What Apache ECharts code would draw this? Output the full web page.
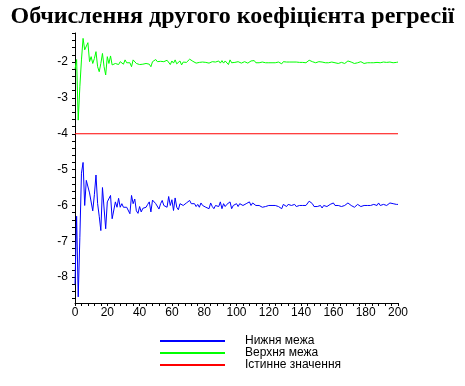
<!DOCTYPE html>
<html>
<head>
<meta charset="utf-8">
<script src="https://cdn.jsdelivr.net/npm/echarts@6/dist/echarts.min.js"></script>
<style>html,body{margin:0;padding:0;background:#fff}#c{width:465px;height:386px}</style>
</head>
<body>
<div id="c"></div>
<script>
var titleText = 'Обчислення другого коефіцієнта регресії';
var seriesNames = ['Нижня межа', 'Верхня межа', 'Істинне значення'];
var xTickLabels = [0, 20, 40, 60, 80, 100, 120, 140, 160, 180, 200];
var yTickLabels = [-8, -7, -6, -5, -4, -3, -2];
var trueValue = -4;

var lowerBound = [
-8.2, -6.3, -8.55, -6.9, -5.1, -4.8, -6.0, -5.3, -5.35, -5.65,
-5.6, -6.15, -5.7, -5.15, -5.95, -6.3, -6.7, -5.5, -5.5, -6.65,
-5.9, -5.85, -5.72, -6.37, -6.35, -5.9, -6.05, -5.8, -6.05, -5.95,
-6.05, -6.07, -6.05, -6.1, -6.23, -5.72, -5.95, -5.82, -6.15, -6.22,
-6.03, -6.18, -6.08, -6.12, -6.05, -5.97, -5.9, -6.18, -5.85, -5.9,
-5.95, -6.0, -6.1, -5.95, -5.86, -6.0, -5.95, -6.05, -5.75, -6.0,
-5.84, -6.14, -5.79, -6.05, -6.12, -5.95, -6.0, -6.0, -5.95, -5.93,
-5.9, -5.86, -5.95, -5.97, -5.95, -6.03, -5.97, -6.05, -5.93, -6.0,
-5.97, -6.05, -6.03, -6.09, -5.93, -6.03, -6.09, -6.0, -5.95, -6.03,
-5.9, -6.09, -5.95, -6.03, -5.97, -5.93, -5.9, -6.09, -6.0, -6.05,
-5.95, -6.03, -5.95, -6.0, -6.0, -6.05, -5.95, -6.0, -5.9, -6.0,
-5.93, -5.95, -6.0, -6.0, -6.0, -6.03, -6.05, -6.03, -6.03, -6.03,
-6.0, -5.95, -6.0, -6.05, -6.0, -5.98, -6.03, -6.07, -6.09, -5.97,
-5.93, -6.03, -5.97, -6.0, -6.0, -6.0, -5.97, -6.03, -6.0, -6.0,
-6.0, -6.0, -6.0, -6.0, -5.95, -5.88, -5.84, -5.95, -6.03, -6.0,
-6.03, -6.05, -6.0, -6.07, -6.0, -6.0, -6.03, -6.07, -5.97, -5.95,
-5.93, -6.0, -6.05, -6.0, -6.0, -6.03, -6.0, -6.0, -5.97, -5.93,
-5.9, -6.0, -6.03, -6.05, -6.0, -5.97, -5.97, -6.03, -6.05, -6.0,
-6.0, -6.0, -6.0, -6.0, -6.0, -5.97, -5.97, -6.0, -5.93, -6.0,
-5.97, -5.97, -5.95, -6.0, -5.97, -5.93, -5.97, -5.95, -6.0, -5.97,
-5.97
];

var upperBound = [
-2.2, -1.93, -3.62, -2.69, -1.94, -1.34, -1.66, -1.71, -1.46, -1.99,
-1.85, -2.04, -1.9, -1.71, -2.13, -2.27, -2.04, -1.76, -2.13, -2.36,
-1.85, -2.04, -1.83, -2.08, -2.07, -2.04, -1.99, -2.07, -1.99, -1.96,
-2.06, -1.94, -2.02, -2.04, -2.02, -2.13, -1.94, -1.9, -2.04, -2.01,
-2.07, -2.02, -2.06, -2.02, -2.04, -1.99, -2.06, -2.13, -1.99, -1.94,
-1.93, -1.99, -2.02, -1.98, -2.02, -1.99, -1.98, -1.95, -1.9, -2.07,
-1.97, -2.03, -1.94, -2.05, -2.02, -1.97, -2.08, -2.0, -1.98, -2.01,
-1.99, -1.92, -1.96, -1.98, -2.0, -2.03, -1.99, -2.01, -2.03, -2.0,
-2.03, -2.01, -2.02, -2.03, -2.01, -1.99, -2.04, -2.0, -1.99, -1.97,
-2.03, -1.96, -2.03, -1.97, -2.01, -2.07, -1.94, -2.02, -2.05, -2.01,
-2.03, -1.99, -2.02, -2.03, -2.02, -1.99, -2.02, -2.03, -1.99, -1.97,
-2.02, -1.96, -2.02, -2.0, -2.02, -2.02, -2.0, -2.04, -2.02, -2.0,
-2.02, -2.03, -2.02, -2.04, -2.02, -2.03, -2.0, -2.04, -2.05, -1.99,
-1.98, -2.0, -2.0, -2.0, -2.0, -2.0, -2.0, -2.0, -2.02, -2.01,
-2.0, -2.01, -2.04, -2.02, -1.99, -1.95, -1.92, -1.99, -2.01, -2.02,
-2.0, -1.99, -2.02, -2.0, -2.04, -2.02, -2.0, -2.02, -2.0, -2.0,
-1.99, -2.02, -2.03, -2.04, -2.0, -2.01, -2.02, -2.04, -2.0, -1.97,
-1.94, -2.0, -2.03, -2.04, -2.04, -2.02, -2.0, -1.99, -2.03, -2.04,
-2.02, -2.02, -2.02, -2.02, -2.02, -2.02, -2.02, -2.01, -1.99, -2.02,
-2.0, -2.0, -2.02, -2.01, -2.0, -2.0, -2.0, -2.02, -2.0, -2.01,
-2.0
];

var yMinorTicks = [];
for (var t = -8.6; t <= -1.2 + 1e-9; t += 0.2) yMinorTicks.push(Math.round(t * 10) / 10);
var xMinorTicks = [];
for (var u = 0; u <= 200; u += 4) xMinorTicks.push(u);

function pairs(arr) { return arr.map(function (v, i) { return [i, v]; }); }

var chart = echarts.init(document.getElementById('c'), null, {renderer: 'canvas'});
var font = 'Liberation Sans, Arial, sans-serif';
chart.setOption({
  animation: false,
  backgroundColor: '#ffffff',
  title: {
    text: titleText, left: 'center', top: 0,
    textStyle: {fontFamily: 'Liberation Serif, Times New Roman, serif', fontWeight: 'bold', fontSize: 24, color: '#000'}
  },
  legend: {
    orient: 'vertical', left: 155, top: 330, itemGap: 0,
    itemWidth: 65, itemHeight: 2, icon: 'rect',
    data: seriesNames,
    textStyle: {fontFamily: font, fontSize: 12, color: '#000', lineHeight: 12, padding: [0, 0, 0, 15]}
  },
  grid: {left: 75, top: 33, width: 323, height: 270, containLabel: false},
  xAxis: {
    type: 'value', min: 0, max: 200,
    axisLine: {lineStyle: {color: '#000', width: 1}},
    axisTick: {customValues: xMinorTicks, length: 3, lineStyle: {color: '#000'}},
    axisLabel: {customValues: xTickLabels, color: '#000', fontFamily: font, fontSize: 12, margin: 4},
    splitLine: {show: false}
  },
  yAxis: [{
    type: 'value', min: -8.72, max: -1.19,
    axisLine: {show: true, lineStyle: {color: '#000', width: 1}},
    axisTick: {customValues: yMinorTicks, length: 3, lineStyle: {color: '#000'}},
    axisLabel: {customValues: yTickLabels, color: '#000', fontFamily: font, fontSize: 12, margin: 7},
    splitLine: {show: false}
  }],
  series: [
    {name: seriesNames[0], type: 'line', data: pairs(lowerBound), showSymbol: false, lineStyle: {color: '#0000ff', width: 1}, itemStyle: {color: '#0000ff'}},
    {name: seriesNames[1], type: 'line', data: pairs(upperBound), showSymbol: false, lineStyle: {color: '#00ff00', width: 1}, itemStyle: {color: '#00ff00'}},
    {name: seriesNames[2], type: 'line', data: [[0, trueValue], [200, trueValue]], showSymbol: false, lineStyle: {color: '#ff0000', width: 1}, itemStyle: {color: '#ff0000'}}
  ]
});
</script>
</body>
</html>
